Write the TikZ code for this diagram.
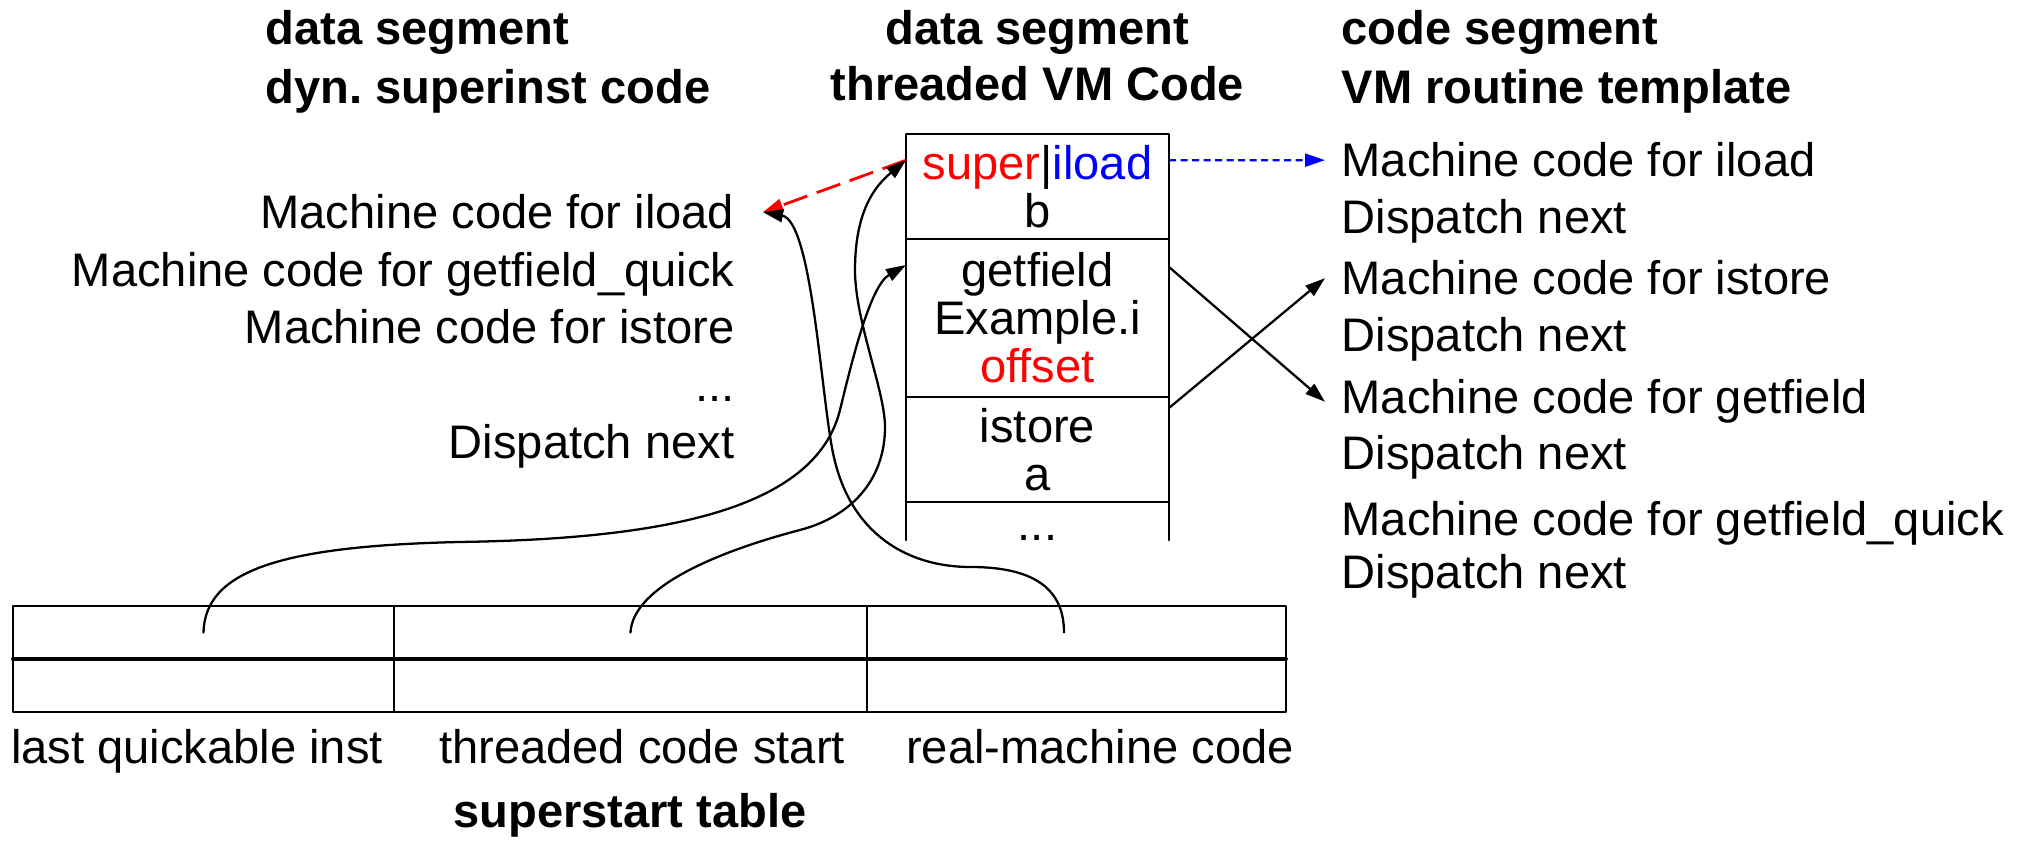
\documentclass[tikz,border=0pt]{standalone}
\usepackage{fontspec}
\setmainfont{Liberation Sans}
\frenchspacing
\usetikzlibrary{calc, arrows.meta, positioning}
\definecolor{ink}{HTML}{000000}
\definecolor{sred}{HTML}{FF0000}
\definecolor{sblue}{HTML}{0000FF}
\tikzset{el/.style={line cap=round, line join=round},
  txt/.style={inner sep=0pt, font=\fontsize{13.4}{13.7}\selectfont},
  hd/.style={txt, font=\fontsize{13.4}{13.7}\selectfont\bfseries},
  row/.style={draw=ink, line width=0.8pt, minimum width=2.63cm, inner sep=0pt, outer sep=0pt, align=center, font=\fontsize{13.4}{13.66}\selectfont},
  cell/.style={draw=ink, line width=0.7pt, minimum height=0.53cm, inner sep=0pt, outer sep=0pt},
  tip/.style={-{Triangle[length=2mm, width=1.3mm]}},
  lnk/.style={tip, ink, line width=0.65pt}}

\begin{document}
\begin{tikzpicture}[el]
  \useasboundingbox (0,0) rectangle (20.31,8.41);
  \node[hd, anchor=base west] (dsl) at (2.65,7.96) {data segment};
  \node[hd, anchor=base west] (dsl2) at (2.65,7.37) {dyn. superinst code};
  \node[hd, anchor=base] (dsm) at (10.375,7.96) {data segment};
  \node[hd, anchor=base] (dsm2) at (10.375,7.40) {threaded VM Code};
  \node[hd, anchor=base west] (csr) at (13.41,7.96) {code segment};
  \node[hd, anchor=base west] (csr2) at (13.41,7.37) {VM routine template};

  \def\dx{7.35}
  \foreach \i/\y/\t in {1/6.12/Machine code for iload, 2/5.54/Machine code for getfield\_quick, 3/4.97/Machine code for istore, 5/3.82/Dispatch next}
    \node[txt, anchor=base east] (d\i) at (\dx,\y) {\t};
  \node[txt, anchor=base east] (d4) at (\dx,4.39) {...};

  \def\rx{13.41}
  \foreach \i/\y/\t in {1/6.64/Machine code for iload, 2/6.07/Dispatch next, 3/5.46/Machine code for istore, 4/4.89/Dispatch next, 5/4.27/Machine code for getfield, 6/3.71/Dispatch next, 7/3.05/Machine code for getfield\_quick, 8/2.52/Dispatch next}
    \node[txt, anchor=base west] (r\i) at (\rx,\y) {\t};

  \def\bx{10.375}
  \node[row, minimum height=1.05cm] (b1) at (\bx,6.545) {{\color{sred}super}|{\color{sblue}iload}\\b};
  \node[row, minimum height=1.58cm] (b2) at (\bx,5.23) {getfield\\Example.i\\{\color{sred}offset}};
  \node[row, minimum height=1.05cm] (b3) at (\bx,3.915) {istore\\a};
  \draw[ink, line width=0.8pt] (b3.south west)--++(0,-0.38) (b3.south east)--++(0,-0.38);
  \node[txt, anchor=base] (b4) at (\bx,3.0) {...};

  \node[cell, minimum width=3.81cm] (lqi) at (2.035,2.085) {};
  \node[cell, minimum width=4.73cm] (tcs) at (6.305,2.085) {};
  \node[cell, minimum width=4.19cm] (rmc) at (10.765,2.085) {};
  \node[cell, minimum width=3.81cm] (lqi2) at (2.035,1.555) {};
  \node[cell, minimum width=4.73cm] (tcs2) at (6.305,1.555) {};
  \node[cell, minimum width=4.19cm] (rmc2) at (10.765,1.555) {};
  \draw[ink, line width=1.1pt] (lqi.south west)--(rmc.south east);
  \node[txt, anchor=base] (l1) at (1.97,0.77) {last quickable inst};
  \node[txt, anchor=base] (l2) at (6.42,0.77) {threaded code start};
  \node[txt, anchor=base] (l3) at (11.00,0.77) {real-machine code};
  \node[hd, anchor=base] (sst) at (6.30,0.13) {superstart table};

  \coordinate (supL) at ($(b1.north west)!.25!(b1.south west)$);
  \coordinate (supR) at ($(b1.north east)!.25!(b1.south east)$);
  \coordinate (getL) at ($(b2.north west)+(0,-0.26)$);
  \coordinate (getR) at ($(b2.north east)+(0,-0.28)$);
  \coordinate (istR) at ($(b3.north east)+(0,-0.11)$);
  \coordinate (dyn) at ([xshift=2.8mm]d1.east);

  \draw[tip, sblue, line width=0.65pt, line cap=butt, dash pattern=on 0.7mm off 0.45mm] (supR)--([xshift=-1.6mm]r1.west);
  \draw[tip, sred, line width=0.8pt, line cap=butt, dash pattern=on 2.5mm off 1mm] (supL)--(dyn);
  \draw[lnk] (getR)--([xshift=-1.6mm]r5.west);
  \draw[lnk] (istR)--([xshift=-1.6mm]r3.west);

  \draw[lnk] (lqi.center) .. controls (2.05,2.7) and (2.8,2.95) .. (4.6,2.99) .. controls (6.6,3.02) and (8.15,3.3) .. (8.40,4.31) .. controls (8.52,4.8) and (8.7,5.55) .. (getL);
  \draw[lnk] (tcs.center) .. controls (6.33,2.55) and (7.2,2.9) .. (8.0,3.11) .. controls (8.5,3.24) and (8.85,3.6) .. (8.85,4.14) .. controls (8.85,4.5) and (8.55,5.2) .. (8.55,5.71) .. controls (8.55,6.3) and (8.75,6.55) .. (supL);
  \draw[lnk] ([xshift=-1.25mm]rmc.center) .. controls (10.64,2.55) and (10.3,2.74) .. (9.7,2.74) .. controls (9.1,2.74) and (8.5,3.05) .. (8.33,3.88) .. controls (8.21,4.46) and (8.12,6.2) .. (dyn);
\end{tikzpicture}
\end{document}
